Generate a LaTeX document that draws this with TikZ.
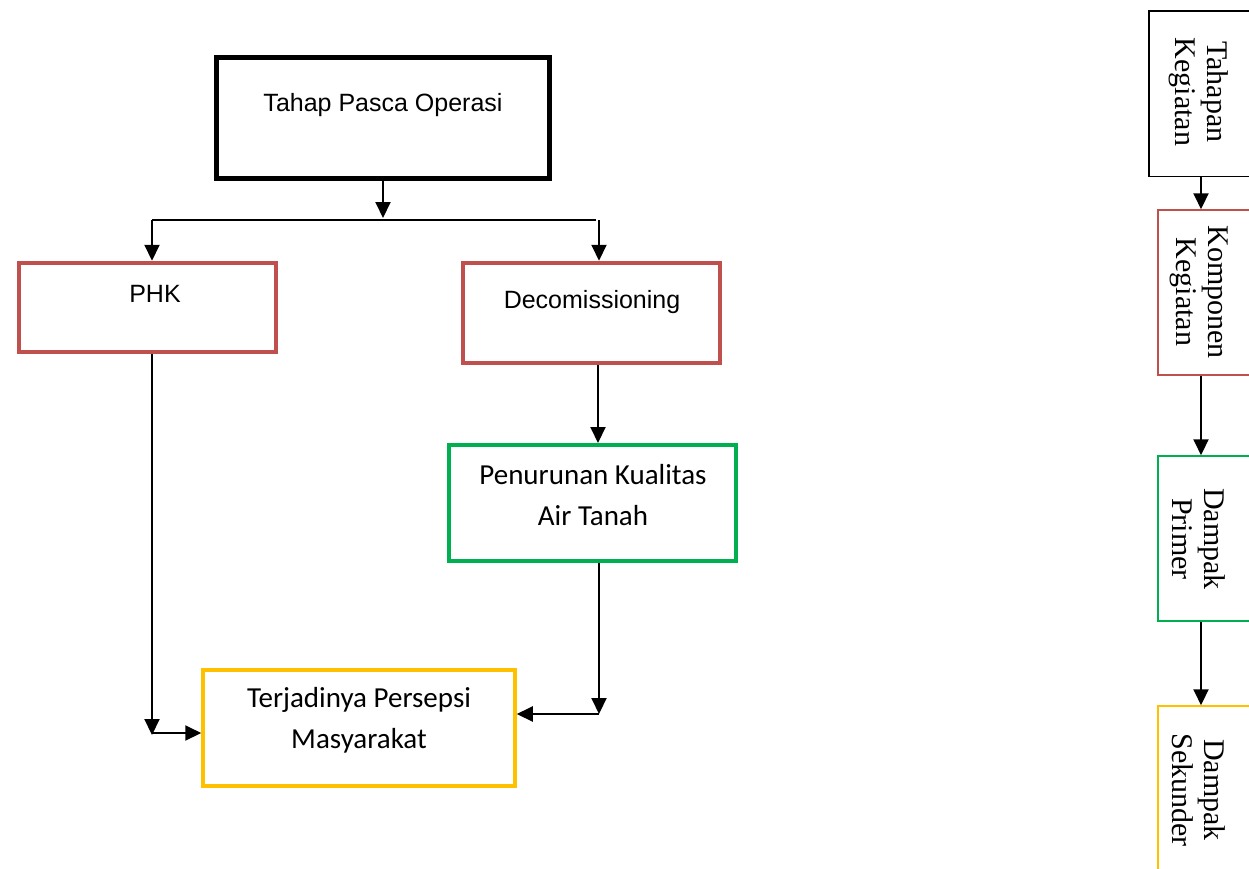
\documentclass[tikz,border=0pt]{standalone}
\usepackage{fontspec}
\setmainfont{Carlito}
\newfontfamily\headfont{Liberation Sans}
\newfontfamily\legendfont{Liberation Serif}
\usetikzlibrary{arrows.meta}
\definecolor{boxred}{HTML}{C0504D}
\definecolor{boxgreen}{HTML}{00B050}
\definecolor{boxyellow}{HTML}{FFC000}
\begin{document}
\begin{tikzpicture}[x=1pt,y=-1pt,
  box/.style={draw, fill=white, inner sep=0pt},
  lbl/.style={font=\fontsize{29}{41}\selectfont, align=center, anchor=base, inner sep=0pt},
  hlbl/.style={font=\headfont\fontsize{25}{30}\selectfont, anchor=base, inner sep=0pt},
  legtxt/.style={font=\legendfont\fontsize{30}{32}\selectfont, align=center, rotate=-90, inner sep=0pt},
  arr/.style={line width=2pt, -{Triangle[width=15pt,length=16pt]}},
  conn/.style={line width=2pt}]
\useasboundingbox (0,0) rectangle (1249,868);
\clip (0,0) rectangle (1249,868);

% main flow boxes
\node[box, line width=5pt, minimum width=333pt, minimum height=121pt] (top) at (383,118) {};
\node[box, draw=boxred, line width=4.5pt, minimum width=257pt, minimum height=89pt] (phk) at (147.5,307.5) {};
\node[box, draw=boxred, line width=4.5pt, minimum width=257pt, minimum height=100pt] (dec) at (591.5,313) {};
\node[box, draw=boxgreen, line width=4pt, minimum width=287pt, minimum height=116pt] (air) at (592.5,503) {};
\node[box, draw=boxyellow, line width=3.5pt, minimum width=312pt, minimum height=116pt] (msy) at (359,728) {};

% box texts (base anchor sits on the last line)
\node[hlbl] (ttop) at (383,111) {Tahap Pasca Operasi};
\node[hlbl] (tphk) at (155,302) {PHK};
\node[hlbl] (tdec) at (592,308) {Decomissioning};
\node[lbl] (tair) at (593,525) {Penurunan Kualitas\\Air Tanah};
\node[lbl] (tmsy) at (359,748) {Terjadinya Persepsi\\Masyarakat};

% branching below the top box
\coordinate (split) at (383,218);
\coordinate (bl) at (152,220);
\coordinate (br) at (596,220);
\coordinate (brd) at (599,220);
\draw[arr] (top.south) -- (split);
\draw[conn] (bl) -- (br);
\draw[arr] (bl) -- (bl |- phk.north);
\draw[arr] (brd) -- (brd |- dec.north);

% decommissioning to groundwater quality
\coordinate (xd) at (598,0);
\draw[arr] (dec.south -| xd) -- (air.north -| xd);

% groundwater quality to public perception
\coordinate (gy) at (599,714);
\draw[arr] (air.south -| gy) -- (gy);
\draw[arr] (gy) -- (msy.east |- gy);

% PHK to public perception
\coordinate (pl) at (152,735);
\coordinate (pr) at (152,733);
\draw[arr] (phk.south -| pl) -- (pl);
\draw[arr] (pr) -- (msy.west |- pr);

% legend column
\node[box, line width=1.5pt, minimum width=151pt, minimum height=165.5pt] (lg1) at (1224.5,93.5) {};
\node[box, draw=boxred, line width=1.5pt, minimum width=142pt, minimum height=165pt] (lg2) at (1229,292.5) {};
\node[box, draw=boxgreen, line width=1.5pt, minimum width=142pt, minimum height=165pt] (lg3) at (1229,538.5) {};
\node[box, draw=boxyellow, line width=1.5pt, minimum width=142pt, minimum height=194pt] (lg4) at (1229,803) {};

\node[legtxt] (tl1) at (1199,92) {Tahapan\\Kegiatan};
\node[legtxt] (tl2) at (1199,292) {Komponen\\Kegiatan};
\node[legtxt] (tl3) at (1199,539) {Dampak\\Primer};
\node[legtxt] (tl4) at (1199,790) {Dampak\\Sekunder};

\coordinate (xl) at (1201,0);
\draw[arr] (lg1.south -| xl) -- (lg2.north -| xl);
\draw[arr] (lg2.south -| xl) -- (lg3.north -| xl);
\draw[arr] (lg3.south -| xl) -- (lg4.north -| xl);
\end{tikzpicture}
\end{document}
